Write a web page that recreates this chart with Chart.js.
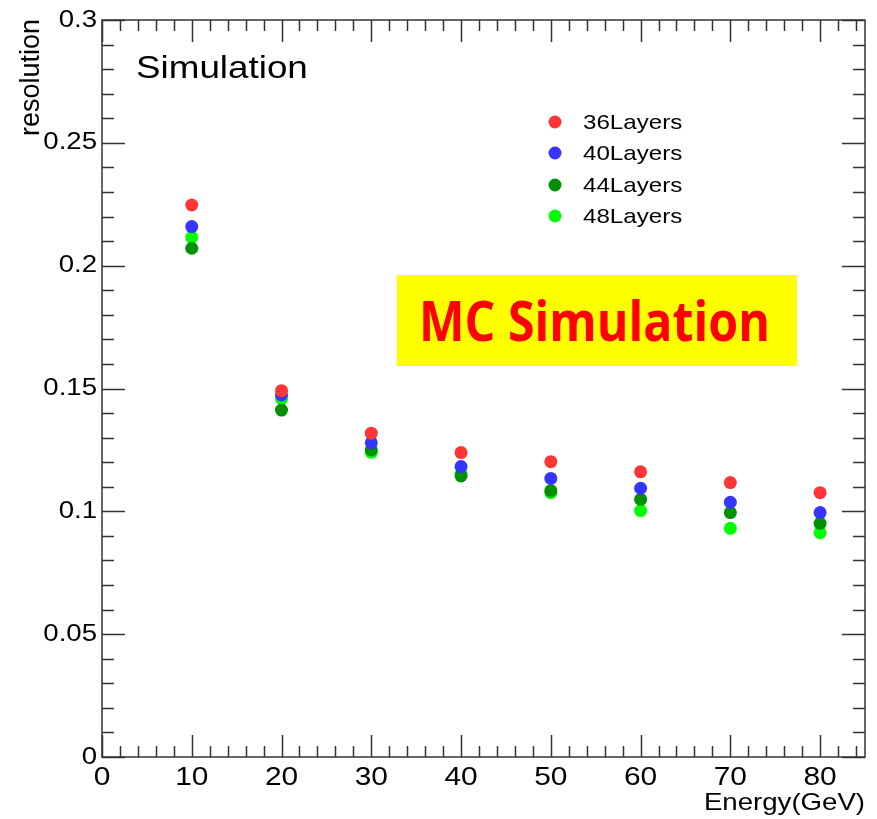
<!DOCTYPE html>
<html lang="en">
<head>
    <meta charset="UTF-8">
    <title>resolution vs Energy</title>
    <script src="https://cdn.jsdelivr.net/npm/chart.js"></script>
    <style>
        body { margin: 0; background: #fff; }
    </style>
</head>
<body>
    <canvas id="myChart" width="877" height="819"></canvas>
    <script>
        // data
        const energies = [10, 20, 30, 40, 50, 60, 70, 80];
        const layers36 = [0.2247, 0.1491, 0.1318, 0.1239, 0.1202, 0.1161, 0.1117, 0.1076];
        const layers40 = [0.2159, 0.1474, 0.1279, 0.1182, 0.1134, 0.1094, 0.1037, 0.0995];
        const layers44 = [0.2071, 0.1412, 0.1250, 0.1144, 0.1084, 0.1049, 0.0995, 0.0951];
        const layers48 = [0.2115, 0.1458, 0.1240, 0.1152, 0.1076, 0.1003, 0.0931, 0.0913];
        const seriesNames = ['36Layers', '40Layers', '44Layers', '48Layers'];
        const seriesColors = ['#ff3535', '#3535ff', '#009100', '#00ff00'];
        const xTickLabels = [0, 10, 20, 30, 40, 50, 60, 70, 80];
        const yTickLabels = [0, 0.05, 0.1, 0.15, 0.2, 0.25, 0.3];

        const FONT = '"Liberation Sans", Arial, sans-serif';
        const SX = 1.15; // the picture is a bit wide

        function toPoints(vals) {
            return energies.map((e, i) => ({ x: e, y: vals[i] }));
        }

        function stretchText(ctx, txt, x, y, align) {
            const w = ctx.measureText(txt).width * SX;
            let x0 = x;
            if (align === 'right') x0 = x - w;
            if (align === 'center') x0 = x - w / 2;
            ctx.save();
            ctx.translate(x0, y);
            ctx.scale(SX, 1);
            ctx.textAlign = 'left';
            ctx.fillText(txt, 0, 0);
            ctx.restore();
        }

        // ROOT style frame, inward ticks, labels and texts
        const rootStyle = {
            id: 'rootStyle',
            afterDraw(chart) {
                const ctx = chart.ctx;
                const a = chart.chartArea;
                const xs = chart.scales.x, ys = chart.scales.y;
                ctx.save();
                ctx.strokeStyle = '#333';
                ctx.lineWidth = 1.5;
                ctx.strokeRect(a.left, a.top, a.right - a.left, a.bottom - a.top);

                ctx.beginPath();
                for (let v = 0; v <= 85; v += 2) {
                    const px = Math.round(xs.getPixelForValue(v)) + 0.5;
                    const len = v % 10 === 0 ? 22 : 11;
                    ctx.moveTo(px, a.bottom); ctx.lineTo(px, a.bottom - len);
                    ctx.moveTo(px, a.top); ctx.lineTo(px, a.top + len);
                }
                for (let k = 0; k <= 30; k++) {
                    const py = Math.round(ys.getPixelForValue(k / 100)) + 0.5;
                    const len = k % 5 === 0 ? 23 : 12;
                    ctx.moveTo(a.left, py); ctx.lineTo(a.left + len, py);
                    ctx.moveTo(a.right, py); ctx.lineTo(a.right - len, py);
                }
                ctx.stroke();

                ctx.fillStyle = '#000';
                ctx.font = '24px ' + FONT;
                ctx.textBaseline = 'middle';
                yTickLabels.forEach(v => {
                    stretchText(ctx, String(v), a.left - 5, ys.getPixelForValue(v), 'right');
                });
                ctx.textBaseline = 'alphabetic';
                ctx.font = '26px ' + FONT;
                xTickLabels.forEach(v => {
                    stretchText(ctx, String(v), xs.getPixelForValue(v), 785, 'center');
                });

                // axis titles
                ctx.font = '24px ' + FONT;
                stretchText(ctx, 'Energy(GeV)', a.right, 810, 'right');
                ctx.save();
                ctx.font = '27px ' + FONT;
                ctx.translate(39, a.top - 1);
                ctx.rotate(-Math.PI / 2);
                ctx.textAlign = 'right';
                ctx.fillText('resolution', 0, 0);
                ctx.restore();

                ctx.font = '32px ' + FONT;
                stretchText(ctx, 'Simulation', 136, 78, 'left');

                // legend
                ctx.font = '21px ' + FONT;
                ctx.textBaseline = 'middle';
                [122, 153, 185, 216].forEach((ly, i) => {
                    ctx.fillStyle = seriesColors[i];
                    ctx.beginPath();
                    ctx.arc(555, ly, 6.5, 0, Math.PI * 2);
                    ctx.fill();
                    ctx.fillStyle = '#000';
                    stretchText(ctx, seriesNames[i], 583, ly + 1, 'left');
                });

                // MC Simulation banner
                ctx.fillStyle = '#ffff00';
                ctx.fillRect(397, 275, 400, 91);
                ctx.fillStyle = '#ff0000';
                ctx.font = 'bold 55px "Open Sans", ' + FONT;
                ctx.textBaseline = 'alphabetic';
                const tw = ctx.measureText('MC Simulation').width;
                ctx.save();
                ctx.translate(419, 341);
                ctx.scale(351 / tw, 1);
                ctx.fillText('MC Simulation', 0, 0);
                ctx.restore();
                ctx.restore();
            }
        };

        const datasets = [layers36, layers40, layers44, layers48].map((vals, i) => ({
            label: seriesNames[i],
            data: toPoints(vals),
            backgroundColor: seriesColors[i],
            borderWidth: 0,
            pointRadius: 6.5,
            pointHoverRadius: 6.5
        }));

        const ctx = document.getElementById('myChart').getContext('2d');
        const myChart = new Chart(ctx, {
            type: 'scatter',
            data: { datasets: datasets },
            options: {
                responsive: false,
                animation: false,
                layout: { padding: { top: 20, right: 12, left: 0, bottom: 0 } },
                plugins: {
                    legend: { display: false },
                    tooltip: { enabled: false }
                },
                scales: {
                    x: {
                        type: 'linear',
                        min: 0,
                        max: 85,
                        grid: { display: false },
                        border: { display: false },
                        ticks: { display: false },
                        afterFit: s => { s.height = 62; }
                    },
                    y: {
                        min: 0,
                        max: 0.3,
                        grid: { display: false },
                        border: { display: false },
                        ticks: { display: false },
                        afterFit: s => { s.width = 102; }
                    }
                }
            },
            plugins: [rootStyle]
        });
    </script>
</body>
</html>
